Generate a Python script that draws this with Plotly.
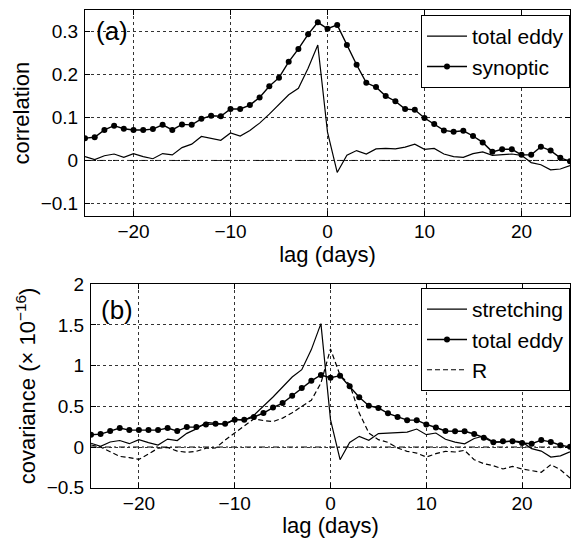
import plotly.graph_objects as go

lags = list(range(-25, 26))

# Panel (a): correlation
corr_total_eddy = [0.009, 0.002, 0.011, 0.015, 0.007, 0.016, 0.009, 0.004, 0.016, 0.013,
                   0.030, 0.038, 0.056, 0.052, 0.047, 0.064, 0.057, 0.070, 0.087, 0.108,
                   0.130, 0.153, 0.168, 0.215, 0.269, 0.066, -0.028, 0.012, 0.023, 0.015,
                   0.027, 0.028, 0.027, 0.031, 0.038, 0.026, 0.028, 0.015, 0.009, 0.007,
                   0.016, 0.020, 0.012, 0.013, 0.015, 0.012, -0.005, -0.010, -0.022, -0.020,
                   -0.012]
corr_synoptic = [0.052, 0.054, 0.071, 0.081, 0.074, 0.071, 0.071, 0.073, 0.083, 0.071,
                 0.084, 0.083, 0.097, 0.104, 0.103, 0.120, 0.120, 0.129, 0.147, 0.173,
                 0.193, 0.230, 0.260, 0.294, 0.322, 0.307, 0.316, 0.269, 0.223, 0.181,
                 0.171, 0.150, 0.138, 0.120, 0.118, 0.099, 0.085, 0.070, 0.067, 0.069,
                 0.057, 0.042, 0.020, 0.026, 0.026, 0.013, 0.013, 0.032, 0.023, 0.006,
                 -0.002]

# Panel (b): covariance (x 1e-16)
cov_stretching = [0.047, 0.008, 0.062, 0.080, 0.041, 0.090, 0.055, 0.025, 0.098, 0.080,
                  0.168, 0.223, 0.303, 0.290, 0.278, 0.343, 0.330, 0.390, 0.500, 0.615,
                  0.738, 0.861, 0.951, 1.197, 1.517, 0.336, -0.156, 0.057, 0.131, 0.082,
                  0.165, 0.172, 0.172, 0.184, 0.221, 0.152, 0.172, 0.095, 0.060, 0.040,
                  0.105, 0.135, 0.063, 0.060, 0.075, 0.063, -0.020, -0.050, -0.123, -0.108,
                  -0.060]
cov_total_eddy = [0.151, 0.159, 0.196, 0.233, 0.208, 0.208, 0.208, 0.208, 0.233, 0.196,
                  0.245, 0.245, 0.278, 0.286, 0.286, 0.335, 0.335, 0.369, 0.418, 0.485,
                  0.540, 0.630, 0.724, 0.813, 0.885, 0.852, 0.877, 0.746, 0.611, 0.508,
                  0.480, 0.414, 0.369, 0.330, 0.330, 0.278, 0.240, 0.197, 0.193, 0.193,
                  0.160, 0.115, 0.059, 0.070, 0.072, 0.050, 0.041, 0.085, 0.063, 0.022,
                  0.002]
cov_R = [0.025, 0.000, -0.058, -0.115, -0.130, -0.152, -0.085, -0.015, -0.005, -0.050,
         -0.065, -0.052, -0.015, -0.012, 0.085, 0.170, 0.255, 0.345, 0.325, 0.312,
         0.355, 0.420, 0.500, 0.575, 0.786, 1.205, 0.880, 0.770, 0.418, 0.172,
         0.090, 0.057, -0.012, -0.053, -0.074, -0.123, -0.082, -0.053, -0.061, -0.041,
         -0.156, -0.205, -0.230, -0.270, -0.238, -0.270, -0.290, -0.310, -0.217, -0.279,
         -0.380]

x_ticks = [-20, -10, 0, 10, 20]
x_ticktext = ["\u221220", "\u221210", "0", "10", "20"]
ya_ticks = [-0.1, 0, 0.1, 0.2, 0.3]
ya_ticktext = ["\u22120.1", "0", "0.1", "0.2", "0.3"]
yb_ticks = [-0.5, 0, 0.5, 1, 1.5, 2]
yb_ticktext = ["\u22120.5", "0", "0.5", "1", "1.5", "2"]

FONT = "Liberation Sans, Arial, Helvetica, sans-serif"
W, H = 571, 541
TICK_SIZE = 19
TITLE_SIZE = 22
LEGEND_SIZE = 21

fig = go.Figure()

fig.add_trace(go.Scatter(x=lags, y=corr_total_eddy, mode="lines", name="total eddy",
                         line=dict(color="black", width=1.2), xaxis="x", yaxis="y",
                         legend="legend"))
fig.add_trace(go.Scatter(x=lags, y=corr_synoptic, mode="lines+markers", name="synoptic",
                         line=dict(color="black", width=1.4),
                         marker=dict(color="black", size=6), xaxis="x", yaxis="y",
                         legend="legend"))

fig.add_trace(go.Scatter(x=lags, y=cov_stretching, mode="lines", name="stretching",
                         line=dict(color="black", width=1.2), xaxis="x2", yaxis="y2",
                         legend="legend2"))
fig.add_trace(go.Scatter(x=lags, y=cov_total_eddy, mode="lines+markers", name="total eddy",
                         line=dict(color="black", width=1.4),
                         marker=dict(color="black", size=6), xaxis="x2", yaxis="y2",
                         legend="legend2"))
fig.add_trace(go.Scatter(x=lags, y=cov_R, mode="lines", name="R",
                         line=dict(color="black", width=1.2, dash="5px,3px"),
                         xaxis="x2", yaxis="y2", legend="legend2"))

# zero reference lines (dash-dot)
for xr, yr in (("x domain", "y"), ("x2 domain", "y2")):
    fig.add_shape(type="line", xref=xr, yref=yr, x0=0, x1=1, y0=0, y1=0,
                  line=dict(color="black", width=1, dash="6px,3px,2px,3px"), layer="below")

axis_common = dict(
    showline=True, linecolor="black", linewidth=1, mirror="ticks",
    ticks="inside", ticklen=5, tickcolor="black", automargin=False,
    showgrid=True, gridcolor="#333", gridwidth=1, griddash="dot",
    zeroline=False, tickfont=dict(family=FONT, size=TICK_SIZE, color="black"),
)

xa_dom = [85 / W, 570 / W]
xb_dom = [91 / W, 570 / W]
ya_dom = [1 - 216.2 / H, 1 - 10.3 / H]
yb_dom = [1 - 487.7 / H, 1 - 284.3 / H]

legend_common = dict(xanchor="right", yanchor="top", bgcolor="white",
                     bordercolor="black", borderwidth=1, itemwidth=40,
                     font=dict(family=FONT, size=LEGEND_SIZE, color="black"),
                     itemclick=False, itemdoubleclick=False)

fig.update_layout(
    width=W, height=H,
    margin=dict(l=0, r=0, t=0, b=0, autoexpand=False),
    paper_bgcolor="white", plot_bgcolor="white",
    font=dict(family=FONT, size=TICK_SIZE, color="black"),
    showlegend=True,
    xaxis=dict(domain=xa_dom, anchor="y", range=[-25, 25], tickvals=x_ticks,
               ticktext=x_ticktext, ticklabelstandoff=-2,
               title=dict(text="lag (days)", font=dict(family=FONT, size=TITLE_SIZE), standoff=0),
               **axis_common),
    yaxis=dict(domain=ya_dom, anchor="x", range=[-0.13, 0.35], tickvals=ya_ticks,
               ticktext=ya_ticktext, ticklabelstandoff=2,
               title=dict(text="correlation", font=dict(family=FONT, size=TITLE_SIZE), standoff=4),
               **axis_common),
    xaxis2=dict(domain=xb_dom, anchor="y2", range=[-25, 25], tickvals=x_ticks,
                ticktext=x_ticktext, ticklabelstandoff=-2,
                title=dict(text="lag (days)", font=dict(family=FONT, size=TITLE_SIZE), standoff=0),
                **axis_common),
    yaxis2=dict(domain=yb_dom, anchor="x2", range=[-0.5, 2], tickvals=yb_ticks,
                ticktext=yb_ticktext, ticklabelstandoff=2,
                title=dict(text="covariance (\u00d7 10<sup>\u221216</sup>)",
                           font=dict(family=FONT, size=TITLE_SIZE), standoff=4),
                **axis_common),
    legend=dict(x=570 / W, y=1 - 15 / H, **legend_common),
    legend2=dict(x=570 / W, y=1 - 288 / H, **legend_common),
    annotations=[
        dict(text="(a)", x=112 / W, y=1 - 31 / H, xref="paper", yref="paper",
             showarrow=False, xanchor="center", yanchor="middle",
             font=dict(family=FONT, size=26, color="black")),
        dict(text="(b)", x=117 / W, y=1 - 310 / H, xref="paper", yref="paper",
             showarrow=False, xanchor="center", yanchor="middle",
             font=dict(family=FONT, size=26, color="black")),
    ],
)

fig.write_html("out.html", config={"displayModeBar": False},
               post_script="document.body.style.margin='0';document.body.style.overflow='hidden';")
